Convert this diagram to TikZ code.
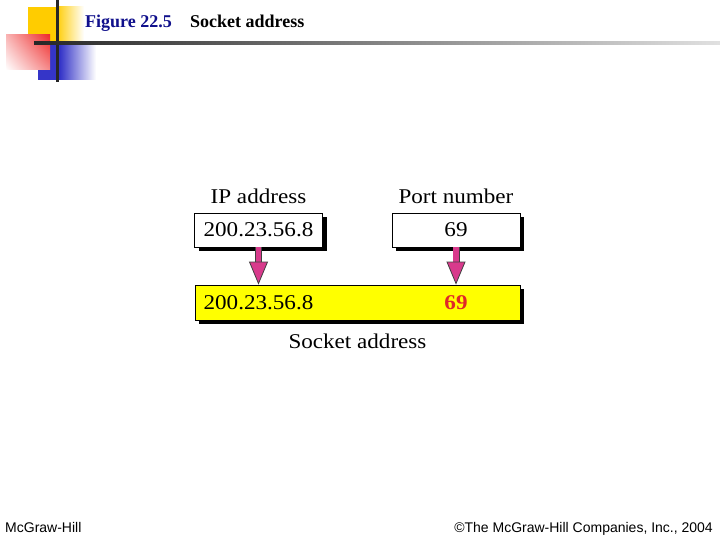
\documentclass[tikz,border=0pt]{standalone}
\usepackage{fontspec}
\setmainfont{Liberation Serif}
\newfontfamily\figfont[FakeStretch=1.1]{Liberation Serif}
\newfontfamily\footfont{Liberation Sans}
\usetikzlibrary{arrows.meta,positioning,shadows,shadings}
\definecolor{navy}{HTML}{10108C}
\definecolor{gold}{HTML}{FFCC00}
\definecolor{flame}{HTML}{EE2B2B}
\definecolor{royal}{HTML}{3535C8}
\definecolor{sockyellow}{HTML}{FFFF00}
\definecolor{pinkarrow}{HTML}{D83A8C}
\definecolor{portred}{HTML}{E02828}

\begin{document}
\begin{tikzpicture}[x=1pt,y=-1pt,
  box/.style={draw=black,line width=0.8pt,fill=white,minimum width=128pt,minimum height=34pt,inner sep=0pt,font=\figfont\fontsize{21}{25}\selectfont,drop shadow={shadow xshift=4pt,shadow yshift=-4pt,fill=black,opacity=1}},
  lbl/.style={inner sep=0pt,font=\figfont\fontsize{21}{25}\selectfont},
  ttl/.style={anchor=base west,inner sep=0pt,font=\bfseries\fontsize{18}{21}\selectfont},
  foot/.style={inner sep=0pt,font=\footfont\fontsize{14}{16}\selectfont},
  pipe/.style={line width=5.5pt,draw=pinkarrow,-{Triangle[width=19pt,length=23pt,line width=0.8pt,color=black!75,fill=pinkarrow]},preaction={draw=black!75,line width=7pt,arrows=-,shorten >=22pt}}]
\useasboundingbox[fill=white] (0,0) rectangle (720,540);
% slide corner ornament
\fill[gold] (28,7) rectangle (56,45);
\shade[left color=gold,right color=white] (56,7) rectangle (84,45);
\fill[royal] (38,43) rectangle (60,80);
\shade[left color=royal,right color=white] (60,43) rectangle (96,80);
\shade[upper left=flame!35,upper right=flame,lower left=white,lower right=flame!55] (6,35) rectangle (50,70);
\fill[black!85] (56,0) rectangle (58.5,82);
\shade[left color=black!85,right color=black!12] (34,42) rectangle (720,44.5);
\node[ttl,text=navy] (fignum) at (85,28) {Figure 22.5};
\node[ttl] (figttl) at (190,28) {Socket address};
% the figure
\node[box] (ipbox) at (258.5,230) {200.23.56.8};
\node[box] (portbox) at (456,230) {69};
\node[box,fill=sockyellow,minimum width=325pt,minimum height=35pt] (sockbox) at (357.5,302.5) {};
\node[lbl,above=9pt of ipbox] (iplbl) {IP address};
\node[lbl,above=9pt of portbox] (portlbl) {Port number};
\node[lbl,below=13pt of sockbox] (socklbl) {Socket address};
\node[lbl] (sockip) at (ipbox |- sockbox) {200.23.56.8};
\node[lbl,text=portred,font=\figfont\bfseries\fontsize{21}{25}\selectfont] (sockport) at (portbox |- sockbox) {69};
\draw[pipe] (ipbox) -- (ipbox |- sockbox.north);
\draw[pipe] (portbox) -- (portbox |- sockbox.north);
% footer
\node[foot,anchor=base west] (pub) at (5,532) {McGraw-Hill};
\node[foot,anchor=base east] (copy) at (713,532) {©The McGraw-Hill Companies, Inc., 2004};
\end{tikzpicture}
\end{document}
